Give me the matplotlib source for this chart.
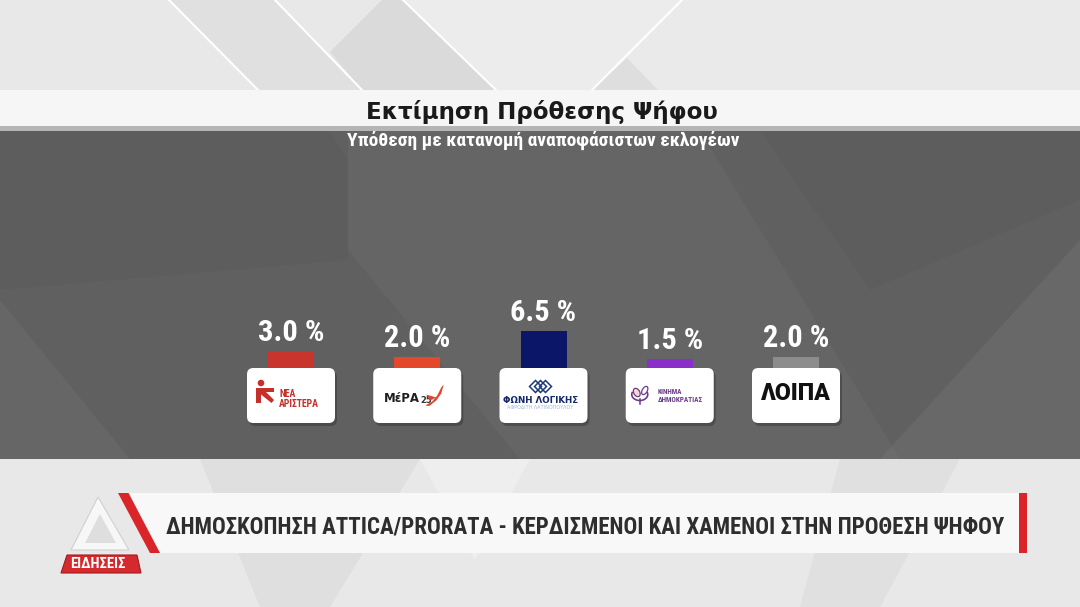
import numpy as np
import matplotlib
matplotlib.use("Agg")
import matplotlib.pyplot as plt
from matplotlib import font_manager as fm
from matplotlib import patches as mpatches
from matplotlib import transforms as mtransforms

parties = ["ΝΕΑ ΑΡΙΣΤΕΡΑ", "ΜέΡΑ25", "ΦΩΝΗ ΛΟΓΙΚΗΣ", "ΚΙΝΗΜΑ ΔΗΜΟΚΡΑΤΙΑΣ", "ΛΟΙΠΑ"]
values = [3.0, 2.0, 6.5, 1.5, 2.0]
value_labels = ["3.0 %", "2.0 %", "6.5 %", "1.5 %", "2.0 %"]
bar_colors = ["#c9352c", "#e4482a", "#0c1668", "#8b2fc9", "#8c8c8c"]

title = "Εκτίμηση Πρόθεσης Ψήφου"
subtitle = "Υπόθεση με κατανομή αναποφάσιστων εκλογέων"
banner = "ΔΗΜΟΣΚΟΠΗΣΗ ATTICA/PRORATA - ΚΕΡΔΙΣΜΕΝΟΙ ΚΑΙ ΧΑΜΕΝΟΙ ΣΤΗΝ ΠΡΟΘΕΣΗ ΨΗΦΟΥ"
channel = "ΕΙΔΗΣΕΙΣ"


def is_bold(f):
    w = f.weight
    if isinstance(w, str):
        return w in ("bold", "heavy", "extra bold", "black", "demibold", "semibold")
    return w >= 600


def find_condensed():
    prefs = ["Roboto Condensed", "Liberation Sans Narrow", "Open Sans Condensed", "Noto Sans"]
    bold = [f for f in fm.fontManager.ttflist if is_bold(f)]
    cands = [f for f in bold
             if "condensed" in str(f.stretch) or "Narrow" in f.name or "Condensed" in f.fname]
    for p in prefs:
        for f in cands:
            if f.name == p:
                return fm.FontProperties(fname=f.fname)
    if cands:
        return fm.FontProperties(fname=cands[0].fname)
    return fm.FontProperties(family="DejaVu Sans", weight="bold")


cond = find_condensed()

fig = plt.figure(figsize=(10.8, 6.07), dpi=100)
bg = fig.add_axes([0, 0, 1, 1])
bg.set_xlim(0, 1080)
bg.set_ylim(607, 0)
bg.axis("off")

# ---- background decoration ----
bg.add_patch(mpatches.Rectangle((0, 0), 1080, 607, fc="#e8e8e8", ec="none", zorder=0))
for poly, c in [
    ([(169, 0), (275, 0), (362, 90), (258, 90)], "#e0e0e0"),
    ([(330, 52), (382, 0), (403, 0), (496, 90), (362, 90)], "#dadada"),
    ([(403, 0), (682, 0), (592, 90), (496, 90)], "#ececec"),
    ([(682, 0), (1080, 0), (1080, 90), (592, 90)], "#eaeaea"),
    ([(627, 58), (658, 90), (592, 90)], "#dedede"),
]:
    bg.add_patch(mpatches.Polygon(poly, closed=True, fc=c, ec="none", zorder=0.5))
for (x0, y0), (x1, y1) in [((169, 0), (258, 90)), ((275, 0), (362, 90)),
                           ((403, 0), (496, 90)), ((682, 0), (592, 90))]:
    bg.plot([x0, x1], [y0, y1], color="white", lw=1.5, zorder=0.6)

# title bar and panel
bg.add_patch(mpatches.Rectangle((0, 90), 1080, 36, fc="#f6f6f6", ec="none", zorder=1))
bg.add_patch(mpatches.Rectangle((0, 126), 1080, 5, fc="#b5b5b5", ec="none", zorder=1))
bg.add_patch(mpatches.Rectangle((0, 131), 1080, 328, fc="#606060", ec="none", zorder=1))
for poly, c, a in [
    ([(0, 131), (330, 131), (348, 160), (348, 260), (0, 290)], "black", 0.025),
    ([(348, 131), (700, 131), (900, 459), (520, 459), (348, 250)], "white", 0.035),
    ([(1080, 240), (1080, 459), (880, 459)], "white", 0.05),
    ([(0, 300), (130, 459), (0, 459)], "white", 0.04),
    ([(760, 131), (1080, 131), (1080, 200), (870, 290)], "black", 0.025),
]:
    bg.add_patch(mpatches.Polygon(poly, closed=True, fc=c, alpha=a, ec="none", zorder=1.2))

# bottom region
for poly, c in [
    ([(200, 459), (420, 459), (330, 607), (260, 607)], "#dfdfdf"),
    ([(420, 459), (475, 560), (530, 459)], "#eeeeee"),
    ([(840, 459), (960, 459), (880, 607), (800, 607)], "#e0e0e0"),
]:
    bg.add_patch(mpatches.Polygon(poly, closed=True, fc=c, ec="none", zorder=1))

# banner
bg.add_patch(mpatches.Polygon([(128.5, 493), (1019, 493), (1019, 553), (160, 553)],
                              closed=True, fc="#f8f8f8", ec="none", zorder=2))
bg.add_patch(mpatches.Polygon([(118, 493), (128.5, 493), (160, 553), (150, 553)],
                              closed=True, fc="#d9252a", ec="none", zorder=2.1))
bg.add_patch(mpatches.Rectangle((1019, 493), 8, 60, fc="#d9252a", ec="none", zorder=2.1))
# channel mark
bg.add_patch(mpatches.Polygon([(98, 497), (71, 550), (129, 550)], closed=True,
                              fc="#f7f7f7", ec="#d0d0d0", lw=0.8, zorder=1.8))
bg.add_patch(mpatches.Polygon([(100, 514), (85, 543), (116, 543)], closed=True,
                              fc="#dedede", ec="none", zorder=1.9))
bg.add_patch(mpatches.Polygon([(67, 555), (137, 555), (141, 573), (61, 573)], closed=True,
                              fc="#d42a2d", ec="#a01d20", lw=0.8, zorder=2.2))

txt_banner = bg.text(585, 527, banner, ha="center", va="center", color="#2e2e2e",
                     fontproperties=cond, fontsize=20.5, zorder=3)
txt_channel = bg.text(98, 564.5, channel, ha="center", va="center", color="white",
                      fontproperties=cond, fontsize=10.5, zorder=3)

txt_title = bg.text(541.5, 119, title, ha="center", va="baseline", color="#1a1a1a",
                    family="DejaVu Sans", weight="bold", fontsize=16.8, zorder=3)
txt_sub = bg.text(543.5, 146, subtitle, ha="center", va="baseline", color="white",
                  fontproperties=cond, fontsize=12.5, zorder=3)

# ---- chart axes ----
XU = 126.25   # px per category
PX = 5.7      # px per percentage point
y_lo, y_hi = -12, 14
ax = fig.add_axes([(291 - XU) / 1080, (607 - (368 - y_lo * PX)) / 607,
                   6 * XU / 1080, (y_hi - y_lo) * PX / 607])
ax.set_xlim(-1, 5)
ax.set_ylim(y_lo, y_hi)
ax.axis("off")
ax.patch.set_alpha(0)

x = np.arange(len(values))
ax.bar(x, values, width=46 / XU, color=bar_colors, zorder=2)

label_texts = []
for xi, v, lbl in zip(x, values, value_labels):
    t = ax.annotate(lbl, (xi, v), xytext=(0, 10), textcoords="offset pixels",
                    ha="center", va="baseline", color="white",
                    fontproperties=cond, fontsize=23.5, zorder=4)
    label_texts.append(t)

card_h = 55 / PX
card_w = 88 / XU
for xi in x:
    ax.add_patch(mpatches.FancyBboxPatch(
        (xi - card_w / 2 + 2 / XU, -card_h - 3 / PX), card_w, card_h,
        boxstyle="round,pad=0,rounding_size=0.05", mutation_aspect=22,
        fc="black", alpha=0.22, ec="none", zorder=2.5))
    ax.add_patch(mpatches.FancyBboxPatch(
        (xi - card_w / 2, -card_h), card_w, card_h,
        boxstyle="round,pad=0,rounding_size=0.05", mutation_aspect=22,
        fc="white", ec="none", zorder=3))


def card_tf(i):
    cx, cy = ax.transData.transform((x[i], -card_h / 2))
    return mtransforms.Affine2D().scale(1, -1).translate(cx, cy)


shrink = []   # (text, max width px)
exact = []    # (text, width px)

# card 0 : ΝΕΑ ΑΡΙΣΤΕΡΑ
tf = card_tf(0)
red = "#c62f2a"
ax.add_patch(mpatches.Circle((-30, -12.5), 3.3, fc=red, ec="none", transform=tf, zorder=5))
ax.add_patch(mpatches.Polygon([(-35, -7.5), (-17, -7.5), (-17, -3.5), (-25, -3.5), (-17, 4.5),
                               (-19.5, 7.5), (-30, -1), (-30, 7.5), (-35, 7.5)],
                              closed=True, fc=red, ec="none", transform=tf, zorder=5))
t = ax.text(-11.7, 3.3, "ΝΕΑ\nΑΡΙΣΤΕΡΑ", ha="left", va="center", color=red,
            fontproperties=cond, fontsize=7, linespacing=1.05, transform=tf, zorder=5)
shrink.append((t, 42))

# card 1 : ΜέΡΑ25
tf = card_tf(1)
t = ax.text(-33, 2.8, "ΜέΡΑ", ha="left", va="center", color="#1e1e1e", family="DejaVu Sans",
            weight="bold", fontsize=8.5, transform=tf, zorder=5)
shrink.append((t, 36))
ax.text(3.5, 5, "25", ha="left", va="center", color="#333333", family="DejaVu Sans",
        weight="bold", fontsize=6, transform=tf, zorder=5)
ax.add_patch(mpatches.Polygon([(8, 10), (15, 6), (20, 0), (24, -8), (26.5, -11), (24, -2),
                               (19, 5), (12, 10.5)],
                              closed=True, fc="#e0442b", ec="none", transform=tf, zorder=5))
ax.add_patch(mpatches.Polygon([(9, -1), (19, 2), (13, 5)], closed=True, fc="#e0442b",
                              ec="none", transform=tf, zorder=5))

# card 2 : ΦΩΝΗ ΛΟΓΙΚΗΣ
tf = card_tf(2)
navy = "#14286b"
for dx in (-8, -3, 2):
    ax.add_patch(mpatches.Polygon([(dx, -15), (dx + 6, -9), (dx, -3), (dx - 6, -9)], closed=True,
                                  fc="none", ec="#1f3a7a", lw=1.1, transform=tf, zorder=5))
t = ax.text(-3, 5, "ΦΩΝΗ ΛΟΓΙΚΗΣ", ha="center", va="center", color=navy, family="DejaVu Sans",
            weight="bold", fontsize=7.5, transform=tf, zorder=5)
exact.append((t, 76))
t = ax.text(-3, 12.5, "ΑΦΡΟΔΙΤΗ ΛΑΤΙΝΟΠΟΥΛΟΥ", ha="center", va="center", color="#9bb6dd",
            family="DejaVu Sans", fontsize=3.5, transform=tf, zorder=5)
shrink.append((t, 72))

# card 3 : ΚΙΝΗΜΑ ΔΗΜΟΚΡΑΤΙΑΣ
tf = card_tf(3)
purple = "#6b3b8f"
ax.add_patch(mpatches.Ellipse((-33, -3), 6, 9, angle=-30, fc="#f3d9c8", ec=purple, lw=0.9,
                              transform=tf, zorder=5))
ax.add_patch(mpatches.Arc((-30, -1), 16, 12, theta1=-20, theta2=200, ec=purple, lw=1.2,
                          transform=tf, zorder=5))
ax.add_patch(mpatches.Ellipse((-25, -5), 5, 9, angle=30, fc="none", ec=purple, lw=0.9,
                              transform=tf, zorder=5))
ax.plot([-30, -30], [4, 9], color=purple, lw=1.1, transform=tf, zorder=5)
t = ax.text(-11.8, 1, "ΚΙΝΗΜΑ\nΔΗΜΟΚΡΑΤΙΑΣ", ha="left", va="center", color=purple,
            fontproperties=cond, fontsize=5.2, linespacing=1.0, transform=tf, zorder=5)
shrink.append((t, 48))

# card 4 : ΛΟΙΠΑ
tf = card_tf(4)
t = ax.text(0, -1.5, "ΛΟΙΠΑ", ha="center", va="center", color="#111111", family="Roboto",
            weight="black", fontsize=17, transform=tf, zorder=5)
exact.append((t, 70))

# scale texts to the widths measured on the reference
fig.canvas.draw()
r = fig.canvas.get_renderer()
exact += [(txt_banner, 840), (txt_title, 353), (txt_sub, 391)]
shrink += [(txt_channel, 61)] + [(t, 66) for t in label_texts]
for t, w in exact + shrink:
    cur = t.get_window_extent(r).width
    if (t, w) in exact or cur > w:
        t.set_fontsize(t.get_fontsize() * w / cur)

fig.savefig("out.png", dpi=100)
